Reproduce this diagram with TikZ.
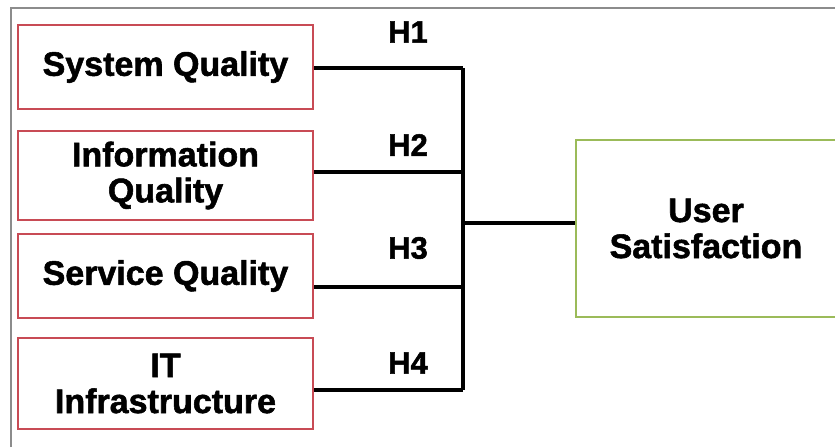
\documentclass[tikz,border=0pt]{standalone}
\usepackage{fontspec}
\setmainfont{Liberation Sans}[BoldFeatures={FakeBold=1.6}]
\definecolor{boxred}{RGB}{200,75,85}
\definecolor{boxgreen}{RGB}{155,187,89}
\definecolor{framegray}{RGB}{140,140,140}
\begin{document}
\begin{tikzpicture}[x=1pt,y=-1pt,
  rbox/.style={draw=boxred,line width=2.5pt,minimum width=295pt,align=center,
    font=\fontsize{34}{36}\selectfont\bfseries,inner sep=0pt},
  gbox/.style={draw=boxgreen,line width=2.5pt,minimum width=260pt,minimum height=177pt,align=center,
    font=\fontsize{34}{36}\selectfont\bfseries,inner sep=0pt},
  hlab/.style={font=\fontsize{31}{33}\selectfont\bfseries,inner sep=0pt},
  conn/.style={draw=black,line width=3.2pt},
  frame/.style={draw=framegray,line width=1.8pt}]
\useasboundingbox (0,0) rectangle (835,447);
\clip (0,0) rectangle (835,447);
\fill[white] (0,0) rectangle (835,447);
\draw[frame] (11,447) -- (11,8) -- (840,8);
\node[rbox,minimum height=84pt] (sq) at (165.5,67) {System Quality};
\node[rbox,minimum height=89pt] (iq) at (165.5,175.5) {Information\\Quality};
\node[rbox,minimum height=84pt] (svq) at (165.5,276) {Service Quality};
\node[rbox,minimum height=91pt] (it) at (165.5,383.5) {IT\\Infrastructure};
\node[gbox] (us) at (706,228.5) {User\\Satisfaction};
\coordinate (c1) at (463,68);
\coordinate (c2) at (463,172);
\coordinate (c3) at (463,287);
\coordinate (c4) at (463,390);
\coordinate (m) at (463,223);
\draw[conn] (sq.east |- c1) -- (c1);
\draw[conn] (iq.east |- c2) -- (c2);
\draw[conn] (svq.east |- c3) -- (c3);
\draw[conn] (it.east |- c4) -- (c4);
\draw[conn,line join=round] (c1) -- (c4);
\draw[conn] (m) -- (us.west |- m);
\node[hlab] (h1) at (408,32) {H1};
\node[hlab] (h2) at (408,145) {H2};
\node[hlab] (h3) at (408,248) {H3};
\node[hlab] (h4) at (408,363) {H4};
\end{tikzpicture}
\end{document}
